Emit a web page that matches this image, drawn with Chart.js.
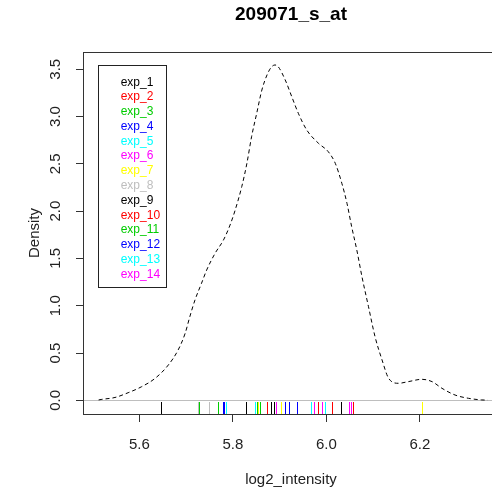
<!DOCTYPE html>
<html>
<head>
<meta charset="utf-8">
<script src="https://cdn.jsdelivr.net/npm/chart.js@4/dist/chart.umd.min.js"></script>
<style>
  html, body { margin: 0; padding: 0; background: #fff; overflow: hidden; }
  #wrap { width: 510px; height: 492px; }
</style>
</head>
<body>
<div id="wrap"><canvas id="densityChart"></canvas></div>
<script>
// density curve
const densityX = [5.513, 5.520, 5.548, 5.576, 5.605, 5.634, 5.662, 5.683, 5.698, 5.708,
  5.719, 5.733, 5.744, 5.762, 5.780, 5.794, 5.805, 5.819, 5.830, 5.840,
  5.851, 5.862, 5.873, 5.882, 5.890, 5.897, 5.912, 5.926, 5.940, 5.958,
  5.983, 6.004, 6.019, 6.033, 6.044, 6.054, 6.065, 6.076, 6.090, 6.104,
  6.119, 6.133, 6.154, 6.175, 6.204, 6.226, 6.247, 6.275, 6.304, 6.332, 6.345];
const densityY = [0.004, 0.010, 0.030, 0.080, 0.144, 0.233, 0.373, 0.532, 0.708, 0.884,
  1.060, 1.237, 1.377, 1.554, 1.695, 1.853, 2.012, 2.258, 2.505, 2.786,
  3.034, 3.280, 3.439, 3.520, 3.545, 3.526, 3.386, 3.209, 3.034, 2.857,
  2.717, 2.628, 2.505, 2.294, 2.082, 1.835, 1.589, 1.307, 0.989, 0.672,
  0.426, 0.233, 0.180, 0.197, 0.222, 0.197, 0.127, 0.056, 0.021, 0.004, 0.002];

// rug ticks: value and palette index
const rugValues = [5.646, 5.725, 5.728, 5.748, 5.768, 5.778, 5.781, 5.785, 5.828, 5.848,
  5.851, 5.853, 5.858, 5.874, 5.881, 5.889, 5.892, 5.902, 5.911, 5.919,
  5.937, 5.968, 5.974, 5.983, 5.990, 5.997, 6.013, 6.032, 6.049, 6.053,
  6.056, 6.205];
const rugColorIdx = [0, 7, 2, 7, 2, 3, 3, 4, 0, 4,
  2, 6, 2, 1, 0, 0, 5, 6, 3, 3,
  3, 4, 5, 1, 5, 4, 1, 0, 5, 5,
  1, 6];

const legendNames = ['exp_1', 'exp_2', 'exp_3', 'exp_4', 'exp_5', 'exp_6', 'exp_7',
  'exp_8', 'exp_9', 'exp_10', 'exp_11', 'exp_12', 'exp_13', 'exp_14'];
const palette = ['#000000', '#FF0000', '#00CD00', '#0000FF', '#00FFFF', '#FF00FF', '#FFFF00', '#BEBEBE'];

const xTicks = [5.6, 5.8, 6.0, 6.2];
const yTicks = [0, 0.5, 1, 1.5, 2, 2.5, 3, 3.5];

const FONT = '"Liberation Sans", Arial, sans-serif';

// gray zero line, rug, legend box and plot frame
const rPlotExtras = {
    id: 'rPlotExtras',
    beforeDatasetsDraw(chart) {
        const { ctx, chartArea, scales } = chart;
        const y0 = Math.round(scales.y.getPixelForValue(0)) + 0.5;
        ctx.save();
        ctx.strokeStyle = '#BEBEBE';
        ctx.lineWidth = 1;
        ctx.beginPath();
        ctx.moveTo(chartArea.left, y0);
        ctx.lineTo(chartArea.right, y0);
        ctx.stroke();
        ctx.restore();
    },
    afterDatasetsDraw(chart) {
        const { ctx, chartArea, scales } = chart;
        ctx.save();
        ctx.lineWidth = 1;
        // rug
        rugValues.forEach((v, i) => {
            const px = Math.round(scales.x.getPixelForValue(v)) + 0.5;
            ctx.strokeStyle = palette[rugColorIdx[i]];
            ctx.beginPath();
            ctx.moveTo(px, chartArea.bottom);
            ctx.lineTo(px, chartArea.bottom - 12);
            ctx.stroke();
        });
        // legend
        const bx = chartArea.left + 15.5, by = chartArea.top + 13.5;
        ctx.fillStyle = '#fff';
        ctx.fillRect(bx, by, 68, 222);
        ctx.strokeStyle = '#222';
        ctx.strokeRect(bx, by, 68, 222);
        ctx.font = '12px ' + FONT;
        ctx.textBaseline = 'middle';
        ctx.textAlign = 'left';
        legendNames.forEach((name, i) => {
            ctx.fillStyle = palette[i % palette.length];
            ctx.fillText(name, chartArea.left + 37.7, chartArea.top + 30.3 + i * 14.77);
        });
        // frame
        ctx.strokeStyle = '#333';
        ctx.strokeRect(chartArea.left + 0.5, chartArea.top + 0.5,
            chartArea.right - chartArea.left, chartArea.bottom - chartArea.top);
        ctx.restore();
    }
};

const ctx = document.getElementById('densityChart').getContext('2d');
new Chart(ctx, {
    type: 'line',
    data: {
        datasets: [{
            label: 'density',
            data: densityX.map((x, i) => ({ x: x, y: densityY[i] })),
            borderColor: '#000',
            borderWidth: 1,
            borderDash: [4, 3],
            pointRadius: 0,
            fill: false,
            cubicInterpolationMode: 'monotone'
        }]
    },
    options: {
        responsive: true,
        maintainAspectRatio: false,
        animation: false,
        devicePixelRatio: 1,
        layout: { padding: { left: 0, right: 11, top: 0, bottom: 0 } },
        plugins: {
            legend: { display: false },
            tooltip: { enabled: false },
            title: {
                display: true,
                text: '209071_s_at',
                fullSize: false,
                color: '#000',
                font: { family: FONT, size: 19, weight: 'bold' },
                padding: { top: 3.6, bottom: 25.6 }
            }
        },
        scales: {
            x: {
                type: 'linear',
                min: 5.4796,
                max: 6.369,
                afterBuildTicks: s => { s.ticks = xTicks.map(v => ({ value: v })); },
                afterFit: s => { s.height = 78; },
                grid: { drawOnChartArea: false, drawTicks: true, tickLength: 8, color: '#333' },
                border: { display: false },
                ticks: {
                    color: '#222',
                    font: { family: FONT, size: 15 },
                    padding: 14,
                    maxRotation: 0,
                    autoSkip: false,
                    callback: v => Number(v).toFixed(1)
                },
                title: {
                    display: true,
                    text: 'log2_intensity',
                    color: '#222',
                    font: { family: FONT, size: 15 },
                    padding: { top: 0, bottom: 3 }
                }
            },
            y: {
                type: 'linear',
                min: -0.1448,
                max: 3.682,
                afterBuildTicks: s => { s.ticks = yTicks.map(v => ({ value: v })); },
                afterFit: s => { s.width = 83; },
                grid: { drawOnChartArea: false, drawTicks: true, tickLength: 7, color: '#333' },
                border: { display: false },
                ticks: {
                    color: '#222',
                    font: { family: FONT, size: 15 },
                    minRotation: 90,
                    maxRotation: 90,
                    crossAlign: 'center',
                    padding: 10,
                    autoSkip: false,
                    callback: v => Number(v).toFixed(1)
                },
                title: {
                    display: true,
                    text: 'Density',
                    color: '#222',
                    font: { family: FONT, size: 15 },
                    padding: { top: 26, bottom: 0 }
                }
            }
        }
    },
    plugins: [rPlotExtras]
});
</script>
</body>
</html>
